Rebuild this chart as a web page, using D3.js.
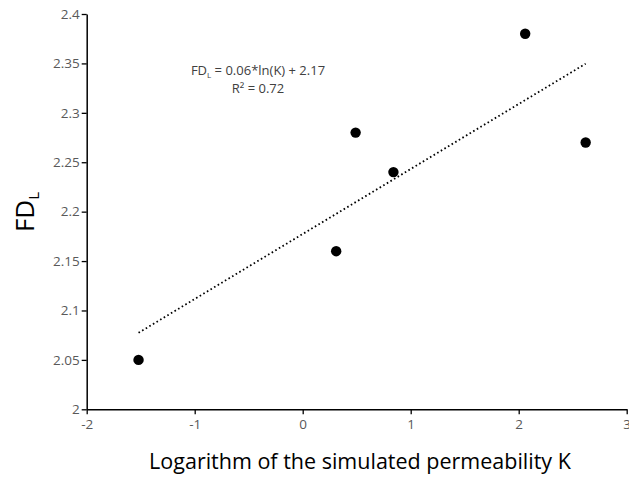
<!DOCTYPE html>
<html><head><meta charset="utf-8">
<script src="https://cdn.jsdelivr.net/npm/d3@7"></script>
<style>body{margin:0;background:#fff;} svg{display:block;}</style>
</head><body>
<svg id="c" width="629" height="479"></svg>
<script>
const xValues = [-1.52, 0.31, 0.49, 0.84, 2.06, 2.62];
const yValues = [2.05, 2.16, 2.28, 2.24, 2.38, 2.27];
const xTicks = [-2, -1, 0, 1, 2, 3];
const yTicks = [2, 2.05, 2.1, 2.15, 2.2, 2.25, 2.3, 2.35, 2.4];
const xTitle = "Logarithm of the simulated permeability K";
const eqText = "= 0.06*ln(K) + 2.17";
const r2Text = "R² = 0.72";

const svg = d3.select("#c");
const x = d3.scaleLinear().domain([-2, 3]).range([86.7, 626.7]);
const y = d3.scaleLinear().domain([2, 2.4]).range([409.3, 14]);
const font = "'Open Sans', sans-serif";

// axes
const gx = svg.append("g").attr("transform", `translate(0,${y(2)})`)
  .call(d3.axisBottom(x).tickValues(xTicks).tickSize(5).tickSizeOuter(0).tickFormat(d => String(d)));
const gy = svg.append("g").attr("transform", `translate(${x(-2)},0)`)
  .call(d3.axisLeft(y).tickValues(yTicks).tickSize(5).tickSizeOuter(0).tickFormat(d => String(+d.toFixed(2))));
[gx, gy].forEach(g => {
  g.select(".domain").attr("stroke", "#000").attr("stroke-width", 1.5);
  g.selectAll(".tick line").attr("stroke", "#000").attr("stroke-width", 1.3);
  g.selectAll(".tick text").attr("fill", "#595959").style("font-family", font).style("font-size", "13.5px");
});
gx.selectAll(".tick text").attr("dy", "0.71em").attr("y", 10);
gy.selectAll(".tick text").attr("x", -7);

// trendline (least squares)
const n = xValues.length;
const mx = d3.mean(xValues), my = d3.mean(yValues);
let sxy = 0, sxx = 0;
for (let i = 0; i < n; i++) { sxy += (xValues[i]-mx)*(yValues[i]-my); sxx += (xValues[i]-mx)**2; }
const slope = sxy / sxx, icpt = my - slope * mx;
const [x0, x1] = d3.extent(xValues);
svg.append("line")
  .attr("x1", x(x0)).attr("y1", y(icpt + slope*x0))
  .attr("x2", x(x1)).attr("y2", y(icpt + slope*x1))
  .attr("stroke", "#000").attr("stroke-width", 1.8)
  .attr("stroke-dasharray", "1.6 2.6");

// points
svg.selectAll("circle.pt").data(xValues).enter().append("circle")
  .attr("class", "pt")
  .attr("cx", (d) => x(d)).attr("cy", (d, i) => y(yValues[i]))
  .attr("r", 5.2).attr("fill", "#000");

// equation
const eq = svg.append("text").attr("x", 258).attr("y", 75).attr("text-anchor", "middle")
  .style("font-family", font).style("font-size", "13px").attr("fill", "#404040");
eq.append("tspan").text("FD");
eq.append("tspan").text("L").style("font-size", "8px").attr("dy", 3);
eq.append("tspan").text(" " + eqText).attr("dy", -3);
svg.append("text").attr("x", 258).attr("y", 93).attr("text-anchor", "middle")
  .style("font-family", font).style("font-size", "13px").attr("fill", "#404040").text(r2Text);

// x title
svg.append("text").attr("x", 360).attr("y", 469).attr("text-anchor", "middle")
  .style("font-family", font).style("font-size", "21.5px").attr("fill", "#000").text(xTitle);

// y title
const yt = svg.append("text").attr("transform", "translate(34,212) rotate(-90)").attr("text-anchor", "middle")
  .style("font-family", font).style("font-size", "26px").attr("fill", "#000");
yt.append("tspan").text("FD");
yt.append("tspan").text("L").style("font-size", "15px").attr("dy", 5);
</script>
</body></html>
